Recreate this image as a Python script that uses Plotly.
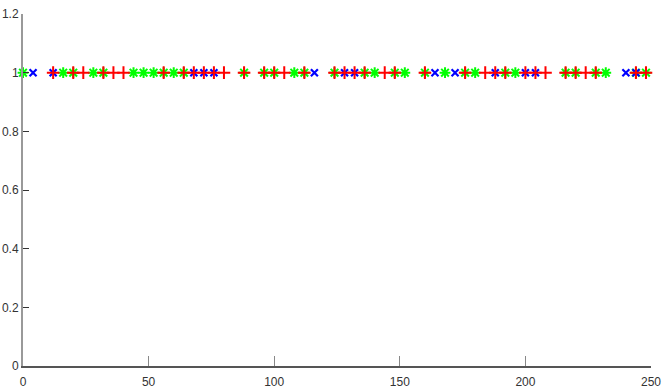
import plotly.graph_objects as go

# Sample positions along the x axis for each series (all observations sit at y = 1)
red_x = [12, 20, 24, 32, 36, 40, 56, 64, 68, 72, 76, 80, 88, 96, 100, 104, 112,
         124, 128, 132, 136, 144, 148, 160, 176, 184, 188, 192, 200, 204, 208,
         216, 220, 224, 228, 244, 248]
blue_x = [4, 12, 68, 72, 76, 116, 128, 132, 164, 172, 188, 200, 204, 240, 244]
green_x = [0, 16, 20, 28, 32, 44, 48, 52, 56, 60, 64, 88, 96, 100, 108, 112,
           124, 136, 140, 148, 152, 160, 168, 176, 180, 192, 196, 216, 220,
           228, 232, 244, 248]

y_ticks = [0, 0.2, 0.4, 0.6, 0.8, 1, 1.2]
x_ticks = [0, 50, 100, 150, 200, 250]

fig = go.Figure()

fig.add_trace(go.Scatter(
    x=green_x, y=[1] * len(green_x), mode="markers", cliponaxis=False,
    marker=dict(symbol="asterisk-open", size=9, color="#00ff00",
                line=dict(color="#00ff00", width=2)),
))
fig.add_trace(go.Scatter(
    x=blue_x, y=[1] * len(blue_x), mode="markers", cliponaxis=False,
    marker=dict(symbol="x-thin-open", size=7, color="#0000ff",
                line=dict(color="#0000ff", width=2.2)),
))
fig.add_trace(go.Scatter(
    x=red_x, y=[1] * len(red_x), mode="markers", cliponaxis=False,
    marker=dict(symbol="cross-thin-open", size=9, color="#ff0000",
                line=dict(color="#ff0000", width=2)),
))

fig.update_layout(
    width=663, height=391, autosize=False,
    margin=dict(l=23, r=12, t=14, b=25),
    paper_bgcolor="white", plot_bgcolor="white",
    showlegend=False,
    font=dict(family="Liberation Sans, Arial, sans-serif", size=12, color="#333"),
)

fig.update_xaxes(
    range=[0, 250], tickvals=x_ticks, ticktext=[str(v) for v in x_ticks],
    showgrid=False, zeroline=False, automargin=False,
    showline=True, linecolor="#555", linewidth=1.5,
    ticks="inside", ticklen=10, tickcolor="#888", tickwidth=1,
    ticklabelstandoff=4,
)
fig.update_yaxes(
    range=[0, 1.2], tickvals=y_ticks, ticktext=[f"{v:g}" for v in y_ticks],
    showgrid=False, zeroline=False, automargin=False,
    showline=True, linecolor="#999", linewidth=2,
    ticks="inside", ticklen=6, tickcolor="#333", tickwidth=1,
)

fig.write_html("out.html")
